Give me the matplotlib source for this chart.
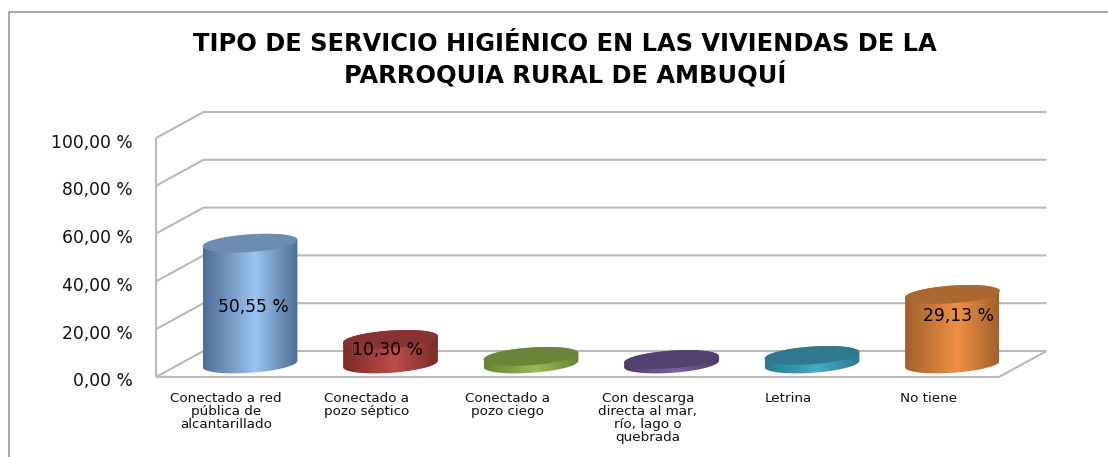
import numpy as np
import matplotlib
matplotlib.use("Agg")
import matplotlib.pyplot as plt
from matplotlib.colors import LinearSegmentedColormap
from matplotlib.lines import Line2D
from matplotlib.patches import Polygon
from matplotlib.transforms import ScaledTranslation

categories = ["Conectado a red\npública de\nalcantarillado", "Conectado a\npozo séptico",
              "Conectado a\npozo ciego", "Con descarga\ndirecta al mar,\nrío, lago o\nquebrada",
              "Letrina", "No tiene"]
values = [50.55, 10.30, 3.2, 1.9, 3.6, 29.13]
value_labels = ["50,55 %", "10,30 %", None, None, None, "29,13 %"]
y_ticks = [0, 20, 40, 60, 80, 100]
y_tick_labels = ["0,00 %", "20,00 %", "40,00 %", "60,00 %", "80,00 %", "100,00 %"]
title = "TIPO DE SERVICIO HIGIÉNICO EN LAS VIVIENDAS DE LA\nPARROQUIA RURAL DE AMBUQUÍ"

side_dark = ["#4d6d94", "#7d2b29", "#66842f", "#4b3763", "#267a92", "#a2602a"]
side_light = ["#9cc4f2", "#bd4d4a", "#9abb58", "#7f63a1", "#49aac4", "#ee9045"]
top_colors = ["#6c8cb4", "#863331", "#6a8538", "#54406f", "#30788d", "#a96731"]

W, H = 1108, 457
X0, X1, Y0, Y100 = 156, 999, 377, 138
fig = plt.figure(figsize=(W / 100, H / 100), dpi=100, facecolor="white")
ax = fig.add_axes([X0 / W, (H - Y0) / H, (X1 - X0) / W, (Y0 - Y100) / H])
for s in ax.spines.values():
    s.set_visible(False)
ax.patch.set_visible(False)

px_x = (X1 - X0) / 6.0       # pixels per category
px_y = (Y0 - Y100) / 100.0   # pixels per value unit
dx = 47.5 / px_x             # depth in category units
dy = 26.0 / px_y             # depth in value units
xmin, xmax = -0.5, 5.5
grid = dict(color="#b9b9b9", lw=1.5, solid_capstyle="butt", zorder=1, clip_on=False)

for v in y_ticks:
    ax.plot([xmin, xmin + dx, xmax + dx], [v, v + dy, v + dy], **grid)
ax.plot([xmin, xmin], [0, 100], **grid)
ax.plot([xmin, xmax, xmax + dx], [0, 0, dy], **grid)

A, B, TILT = 47.5, 8.8, np.radians(4.0)


def arc(cx, cy, t):
    ex = A * np.cos(t) * np.cos(TILT) - B * np.sin(t) * np.sin(TILT)
    ey = A * np.cos(t) * np.sin(TILT) + B * np.sin(t) * np.cos(TILT)
    return cx + ex / px_x, cy + ey / px_y


label_offsets = {0: (3, 10), 1: (-3, 15), 5: (6, 26)}
for i, v in enumerate(values):
    cx, base, top = i + dx / 2, dy / 2, v + dy / 2
    tx, ty = arc(cx, top, np.linspace(np.pi, 0, 60))
    bx, by = arc(cx, base, np.linspace(0, -np.pi, 60))
    cmap = LinearSegmentedColormap.from_list(
        "c", [(0, side_dark[i]), (0.55, side_light[i]), (1, side_dark[i])])
    im = ax.imshow(np.linspace(0, 1, 128)[None, :], extent=(cx - A / px_x, cx + A / px_x, -8, top + 8),
                   aspect="auto", cmap=cmap, vmin=0, vmax=1, zorder=3, clip_on=True, interpolation="bilinear")
    body = Polygon(np.column_stack([np.r_[tx, bx], np.r_[ty, by]]), transform=ax.transData,
                   fc="none", ec="none")
    ax.add_patch(body)
    im.set_clip_path(body)
    ex, ey = arc(cx, top, np.linspace(0, 2 * np.pi, 120))
    ax.fill(ex, ey, color=top_colors[i], lw=0, zorder=4, clip_on=False)
    if value_labels[i]:
        ox, oy = label_offsets[i]
        ax.annotate(value_labels[i], (cx, v / 2), xytext=(ox * 0.72, oy * 0.72),
                    textcoords="offset points", ha="center", va="center",
                    fontsize=12.3, color="black", zorder=6, annotation_clip=False)

ax.set_xlim(xmin, xmax)
ax.set_ylim(0, 100)
ax.set_xticks(range(6), categories, fontsize=9.7, color="#111111", linespacing=1.0)
ax.set_yticks(y_ticks, y_tick_labels, fontsize=12.3, color="#111111")
ax.tick_params(axis="x", length=0, pad=10.8)
ax.tick_params(axis="y", length=0, pad=16.5)
shift = ScaledTranslation(0, -2.5 / 100, fig.dpi_scale_trans)
for lab in ax.get_yticklabels():
    lab.set_transform(lab.get_transform() + shift)

fig.text(565 / W, 1 - 60 / H, title, ha="center", va="center", fontsize=17.4,
         fontweight="bold", color="black", linespacing=1.22)

frame = dict(color="#8f8f8f", lw=1.1, transform=fig.transFigure)
fig.add_artist(Line2D([9 / W, 9 / W, 1], [0, 1 - 11.5 / H, 1 - 11.5 / H], **frame))

fig.savefig("out.png", dpi=100, facecolor="white")
